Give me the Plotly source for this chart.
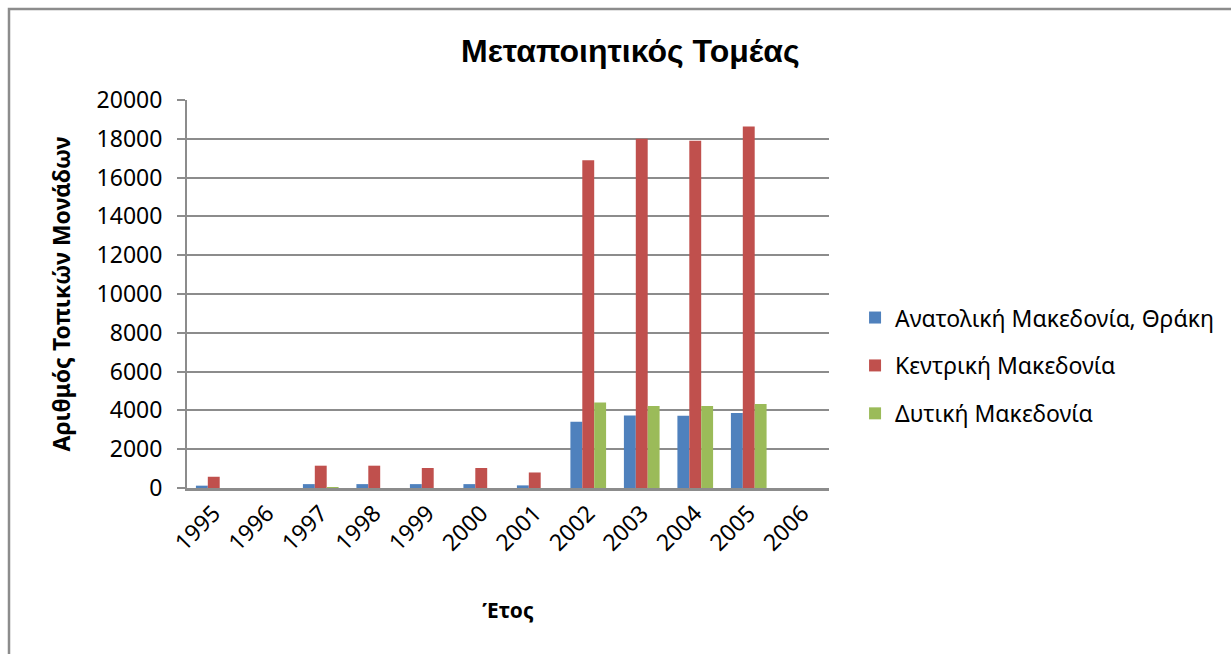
import plotly.graph_objects as go

years = ["1995", "1996", "1997", "1998", "1999", "2000", "2001", "2002", "2003", "2004", "2005", "2006"]
series_names = ["Ανατολική Μακεδονία, Θράκη", "Κεντρική Μακεδονία", "Δυτική Μακεδονία"]
anatoliki = [120, None, 200, 200, 200, 200, 135, 3420, 3740, 3730, 3870, None]
kentriki = [580, None, 1150, 1150, 1030, 1030, 800, 16900, 18000, 17900, 18640, None]
dytiki = [None, None, 15, None, None, None, None, 4410, 4230, 4230, 4330, None]
colors = ["#4F81BD", "#C0504D", "#9BBB59"]
y_ticks = [0, 2000, 4000, 6000, 8000, 10000, 12000, 14000, 16000, 18000, 20000]

fig = go.Figure()
for i, (name, vals, col) in enumerate(zip(series_names, [anatoliki, kentriki, dytiki], colors)):
    fig.add_trace(go.Bar(x=years, y=vals, name=name, legendgroup=f"g{i}",
                         marker=dict(color=col, line=dict(width=0))))

font_main = "Noto Sans, Open Sans, sans-serif"
L, R, T, B = 187, 402, 100, 166
PW, PH = 1231 - L - R, 654 - T - B
fig.update_layout(
    width=1231, height=654,
    paper_bgcolor="white", plot_bgcolor="white",
    margin=dict(l=L, r=R, t=T, b=B, autoexpand=False),
    barmode="group", bargap=0.333, bargroupgap=0,
    title=dict(text="<b>Μεταποιητικός Τομέας</b>", x=0.512, xanchor="center",
               y=0.923, yanchor="middle",
               font=dict(family="Liberation Sans, Arial, sans-serif", size=32, color="black")),
    legend=dict(xref="container", yref="container", x=0.6946, xanchor="left",
                y=0.441, yanchor="middle",
                font=dict(family=font_main, size=23, color="black"),
                tracegroupgap=15, itemsizing="constant", bgcolor="rgba(0,0,0,0)"),
    showlegend=True,
)
fig.update_yaxes(
    range=[0, 20000], tickvals=y_ticks, ticktext=[str(v) for v in y_ticks],
    showgrid=True, gridcolor="#8C8C8C", gridwidth=1.5,
    showline=True, linecolor="#8C8C8C", linewidth=2,
    ticks="outside", ticklen=8, tickcolor="#8C8C8C", tickwidth=2,
    ticklabelstandoff=10,
    tickfont=dict(family=font_main, size=23, color="black"),
    title=dict(text="<b>Αριθμός Τοπικών Μονάδων</b>", standoff=20,
               font=dict(family=font_main, size=23, color="black")),
    zeroline=False, automargin=False,
)
fig.update_xaxes(
    showline=True, linecolor="#8C8C8C", linewidth=2.5,
    tickangle=-45, ticks="",
    tickfont=dict(family=font_main, size=23, color="black"),
    title=dict(text="<b>Έτος</b>", standoff=48,
               font=dict(family=font_main, size=21, color="black")),
    automargin=False,
)
fig.add_shape(type="rect", xref="paper", yref="paper",
              x0=(9 - L) / PW, x1=(1240 - L) / PW,
              y0=-(664 - (654 - B)) / PH, y1=((654 - B) - 9) / PH,
              line=dict(color="#8C8C8C", width=2.5), fillcolor="rgba(0,0,0,0)", layer="below")

fig.write_html("out.html", config={"displayModeBar": False},
               post_script="document.body.style.margin='0px';document.body.style.overflow='hidden';document.documentElement.style.overflow='hidden';")
